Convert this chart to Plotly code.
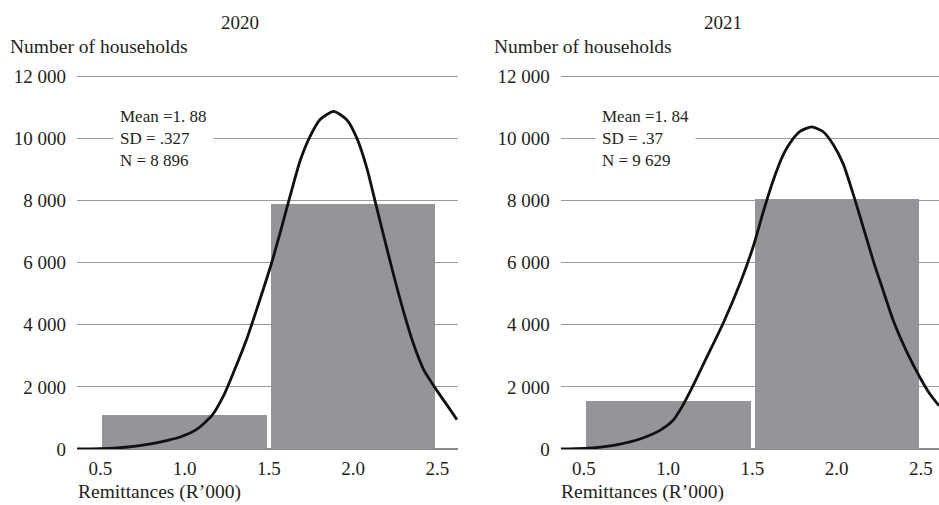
import plotly.graph_objects as go

# ---------------- data ----------------
bin_centers = [1.0, 2.0]
counts_2020 = [1100, 7900]
counts_2021 = [1550, 8050]

curve_x_2020 = [0.362, 0.50, 0.60, 0.70, 0.80, 0.90, 0.975, 1.074, 1.163, 1.232, 1.291,
                1.371, 1.450, 1.519, 1.569, 1.628, 1.687, 1.746, 1.806, 1.885, 1.964,
                2.024, 2.083, 2.132, 2.181, 2.241, 2.300, 2.359, 2.419, 2.498, 2.557, 2.617]
curve_y_2020 = [0, 10, 35, 85, 165, 280, 385, 640, 1080, 1720, 2470,
                3569, 4855, 6032, 6997, 8177, 9300, 10080, 10620, 10877, 10600,
                10000, 9035, 7961, 6891, 5605, 4424, 3380, 2560, 1880, 1420, 942]

curve_x_2021 = [0.362, 0.50, 0.60, 0.70, 0.832, 0.951, 1.030, 1.089, 1.149, 1.228, 1.327,
                1.426, 1.505, 1.564, 1.623, 1.683, 1.722, 1.782, 1.851, 1.920, 1.980,
                2.039, 2.098, 2.158, 2.217, 2.276, 2.336, 2.415, 2.494, 2.553, 2.607]
curve_y_2021 = [0, 20, 60, 140, 322, 600, 930, 1430, 2060, 2949, 4060,
                5330, 6530, 7640, 8650, 9480, 9850, 10230, 10377, 10220, 9800,
                9176, 8210, 7134, 6063, 5097, 4131, 3135, 2305, 1771, 1394]

y_tickvals = [0, 2000, 4000, 6000, 8000, 10000, 12000]
y_ticktext = ["0", "2 000", "4 000", "6 000", "8 000", "10 000", "12 000"]
x_tickvals = [0.5, 1.0, 1.5, 2.0, 2.5]
x_ticktext = ["0.5", "1.0", "1.5", "2.0", "2.5"]

panel_titles = ["2020", "2021"]
stats_2020 = ["Mean =1. 88", "SD = .327", "N = 8 896"]
stats_2021 = ["Mean =1. 84", "SD = .37", "N = 9 629"]
y_title = "Number of households"
x_title = "Remittances (R\u2019000)"

# ---------------- layout helpers ----------------
W, H = 939, 505
FONT = "Liberation Serif"
TXT = "#231f20"
BAR = "#939598"
GRID = "#9a9a9a"


def xp(px):
    return px / W


def yp(py):
    return 1 - py / H


fig = go.Figure()

line_style = dict(color="#111111", width=2.8, shape="spline", smoothing=0.6)
fig.add_trace(go.Bar(x=bin_centers, y=counts_2020, width=0.977, marker=dict(color=BAR, line=dict(width=0)),
                     xaxis="x", yaxis="y", showlegend=False))
fig.add_trace(go.Scatter(x=curve_x_2020, y=curve_y_2020, mode="lines", line=line_style,
                         xaxis="x", yaxis="y", showlegend=False))
fig.add_trace(go.Bar(x=bin_centers, y=counts_2021, width=0.977, marker=dict(color=BAR, line=dict(width=0)),
                     xaxis="x2", yaxis="y2", showlegend=False))
fig.add_trace(go.Scatter(x=curve_x_2021, y=curve_y_2021, mode="lines", line=line_style,
                         xaxis="x2", yaxis="y2", showlegend=False))

# 0 at y=449 px; range topped slightly above 12 000 so that its gridline shows
y_top = 12080
px_per_unit = (449 - 76.5) / 12000
ydom = [yp(449), yp(449 - y_top * px_per_unit)]

xaxis_common = dict(tickvals=x_tickvals, ticktext=x_ticktext, showgrid=False, zeroline=False,
                    showline=False, ticks="", ticklabelstandoff=6, automargin=False,
                    tickfont=dict(family=FONT, size=19, color=TXT), fixedrange=True)
yaxis_common = dict(range=[0, y_top], tickvals=y_tickvals, ticktext=y_ticktext, showgrid=True,
                    gridcolor=GRID, gridwidth=1.4, zeroline=True, zerolinecolor="#8a8a8a",
                    zerolinewidth=1.6, showline=False, ticks="", ticklabelstandoff=10,
                    automargin=False,
                    tickfont=dict(family=FONT, size=19, color=TXT), fixedrange=True, domain=ydom)

fig.update_layout(
    width=W, height=H,
    margin=dict(l=0, r=0, t=0, b=0, pad=0, autoexpand=False),
    paper_bgcolor="white", plot_bgcolor="white",
    bargap=0,
    xaxis=dict(domain=[xp(77), xp(458)], range=[0.362, 2.623], anchor="y", **xaxis_common),
    yaxis=dict(anchor="x", **yaxis_common),
    xaxis2=dict(domain=[xp(560.7), 1.0], range=[0.362, 2.607], anchor="y2", **xaxis_common),
    yaxis2=dict(anchor="x2", **yaxis_common),
)

annotations = []
for t, cx in zip(panel_titles, [240, 723]):
    annotations.append(dict(text=t, x=xp(cx), y=yp(22), xref="paper", yref="paper",
                            xanchor="center", yanchor="middle", showarrow=False,
                            font=dict(family=FONT, size=19, color=TXT)))
for lx in [8, 492]:
    annotations.append(dict(text=y_title, x=xp(lx), y=yp(47), xref="paper", yref="paper",
                            xanchor="left", yanchor="middle", showarrow=False,
                            font=dict(family=FONT, size=19.5, color=TXT)))
for lx in [76, 559]:
    annotations.append(dict(text=x_title, x=xp(lx), y=yp(492), xref="paper", yref="paper",
                            xanchor="left", yanchor="middle", showarrow=False,
                            font=dict(family=FONT, size=19.5, color=TXT)))
for lines, lx in [(stats_2020, 113), (stats_2021, 595)]:
    annotations.append(dict(text="<br>".join(lines), x=xp(lx), y=yp(138), xref="paper", yref="paper",
                            xanchor="left", yanchor="middle", align="left", showarrow=False,
                            bgcolor="white", borderpad=6,
                            font=dict(family=FONT, size=17, color=TXT)))

fig.update_layout(annotations=annotations)

fig.write_html("out.html")
